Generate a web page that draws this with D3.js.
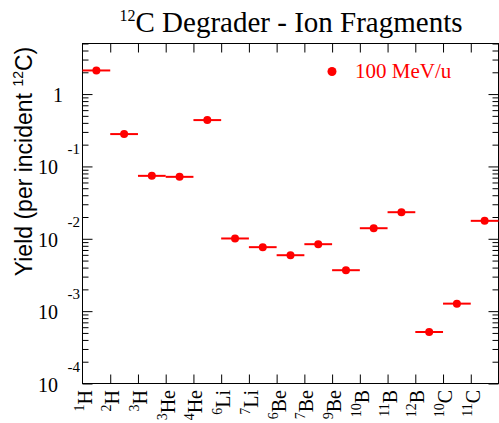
<!DOCTYPE html>
<html>
<head>
<meta charset="utf-8">
<script src="https://cdn.jsdelivr.net/npm/d3@7"></script>
<style>
  body { margin: 0; background: #fff; }
  text { font-family: "Liberation Serif", "Times New Roman", serif; }
</style>
</head>
<body>
<script>
// fragment labels: mass number + element
var masses = [1, 2, 3, 3, 4, 6, 7, 6, 7, 9, 10, 11, 12, 10, 11];
var elements = ["H", "H", "H", "He", "He", "Li", "Li", "Be", "Be", "Be", "B", "B", "B", "C", "C"];
// yield per incident 12C at 100 MeV/u
var yields = [2.12, 0.28, 0.0741, 0.0718, 0.437, 0.0101, 0.00766, 0.00593, 0.00842, 0.00368, 0.0140, 0.0233, 0.000515, 0.00127, 0.0177];
var decades = [-4, -3, -2, -1, 0];

var W = 499, H = 423;
// plot frame (note: "top" is reserved on window, so p-prefixed names)
var pLeft = 82.5, pRight = 498.5, pTop = 43.5, pBottom = 383.5;

var svg = d3.select("body").append("svg").attr("width", W).attr("height", H);

var x = d3.scaleLinear().domain([0, masses.length]).range([pLeft, pRight]);
var y = d3.scaleLog().domain([1e-4, 5]).range([pBottom, pTop]);

//minor tick values 2..9 for each decade, inside the domain
var minor = [];
decades.forEach(function(d){
  for (var m = 2; m <= 9; m++) {
    var v = m * Math.pow(10, d);
    if (v <= 5) minor.push(v);
  }
});
var major = decades.map(function(d){ return Math.pow(10, d); });

function tickAxis(axis, tx, ty) {
  var g = svg.append("g").attr("transform", "translate(" + tx + "," + ty + ")").call(axis);
  g.select(".domain").remove();
  g.selectAll("text").remove();
  g.selectAll("line").attr("stroke", "#000");
  return g;
}

var inner = d3.range(1, masses.length);
tickAxis(d3.axisLeft(y).tickValues(major).tickSize(-10), pLeft, 0);
tickAxis(d3.axisLeft(y).tickValues(minor).tickSize(-6), pLeft, 0);
tickAxis(d3.axisRight(y).tickValues(major).tickSize(-10), pRight, 0);
tickAxis(d3.axisRight(y).tickValues(minor).tickSize(-6), pRight, 0);
tickAxis(d3.axisTop(x).tickValues(inner).tickSize(-9), 0, pTop);
tickAxis(d3.axisBottom(x).tickValues(inner).tickSize(-9), 0, pBottom);

// frame
svg.append("rect")
  .attr("x", pLeft).attr("y", pTop)
  .attr("width", pRight - pLeft).attr("height", pBottom - pTop)
  .attr("fill", "none").attr("stroke", "#000").attr("stroke-width", 1);

// y tick labels, 10 with raised exponent
decades.forEach(function(d){
  var yy = y(Math.pow(10, d));
  if (d === 0) {
    svg.append("text").attr("x", 63).attr("y", yy + 8)
      .attr("text-anchor", "end").attr("font-size", 20).text("1");
  } else {
    svg.append("text").attr("x", 58).attr("y", yy + 8)
      .attr("text-anchor", "end").attr("font-size", 20).text("10");
    svg.append("text").attr("x", 80).attr("y", yy - 12)
      .attr("text-anchor", "end").attr("font-size", 15).text("-" + (-d));
  }
});

// x tick labels, rotated
masses.forEach(function(m, i){
  var t = svg.append("text")
    .attr("transform", "translate(" + (x(i) + 9) + "," + 390 + ") rotate(-90)")
    .attr("text-anchor", "end")
    .attr("font-size", 20);
  t.append("tspan").attr("font-size", 14).attr("dy", -8).text(m);
  t.append("tspan").attr("dy", 8).text(elements[i]);
});

// error bars (bin width) and points
svg.selectAll(".bar").data(yields).enter().append("line")
  .attr("x1", function(d, i){ return x(i); })
  .attr("x2", function(d, i){ return x(i + 1); })
  .attr("y1", function(d){ return y(d); })
  .attr("y2", function(d){ return y(d); })
  .attr("stroke", "#ff0000").attr("stroke-width", 2);

svg.selectAll(".pt").data(yields).enter().append("circle")
  .attr("cx", function(d, i){ return x(i + 0.5); })
  .attr("cy", function(d){ return y(d); })
  .attr("r", 4)
  .attr("fill", "#ff0000");

// legend
svg.append("circle").attr("cx", 332).attr("cy", 71.5).attr("r", 4.5).attr("fill", "#ff0000");
svg.append("text").attr("x", 355).attr("y", 77.5)
  .attr("font-size", 21).attr("fill", "#ff0000").text("100 MeV/u");

// title
var title = svg.append("text").attr("x", 291).attr("y", 32)
  .attr("text-anchor", "middle").attr("font-size", 29);
title.append("tspan").attr("font-size", 16).attr("dy", -11).text("12");
title.append("tspan").attr("dy", 11).text("C Degrader - Ion Fragments");

// y axis title
var ylab = svg.append("text")
  .attr("transform", "translate(32,161.5) rotate(-90)")
  .attr("text-anchor", "middle")
  .style("font-family", "'Liberation Sans', Arial, sans-serif")
  .attr("font-size", 23);
ylab.append("tspan").text("Yield (per incident ");
ylab.append("tspan").attr("font-size", 14).attr("dy", -9).text("12");
ylab.append("tspan").attr("dy", 9).text("C)");
</script>
</body>
</html>
